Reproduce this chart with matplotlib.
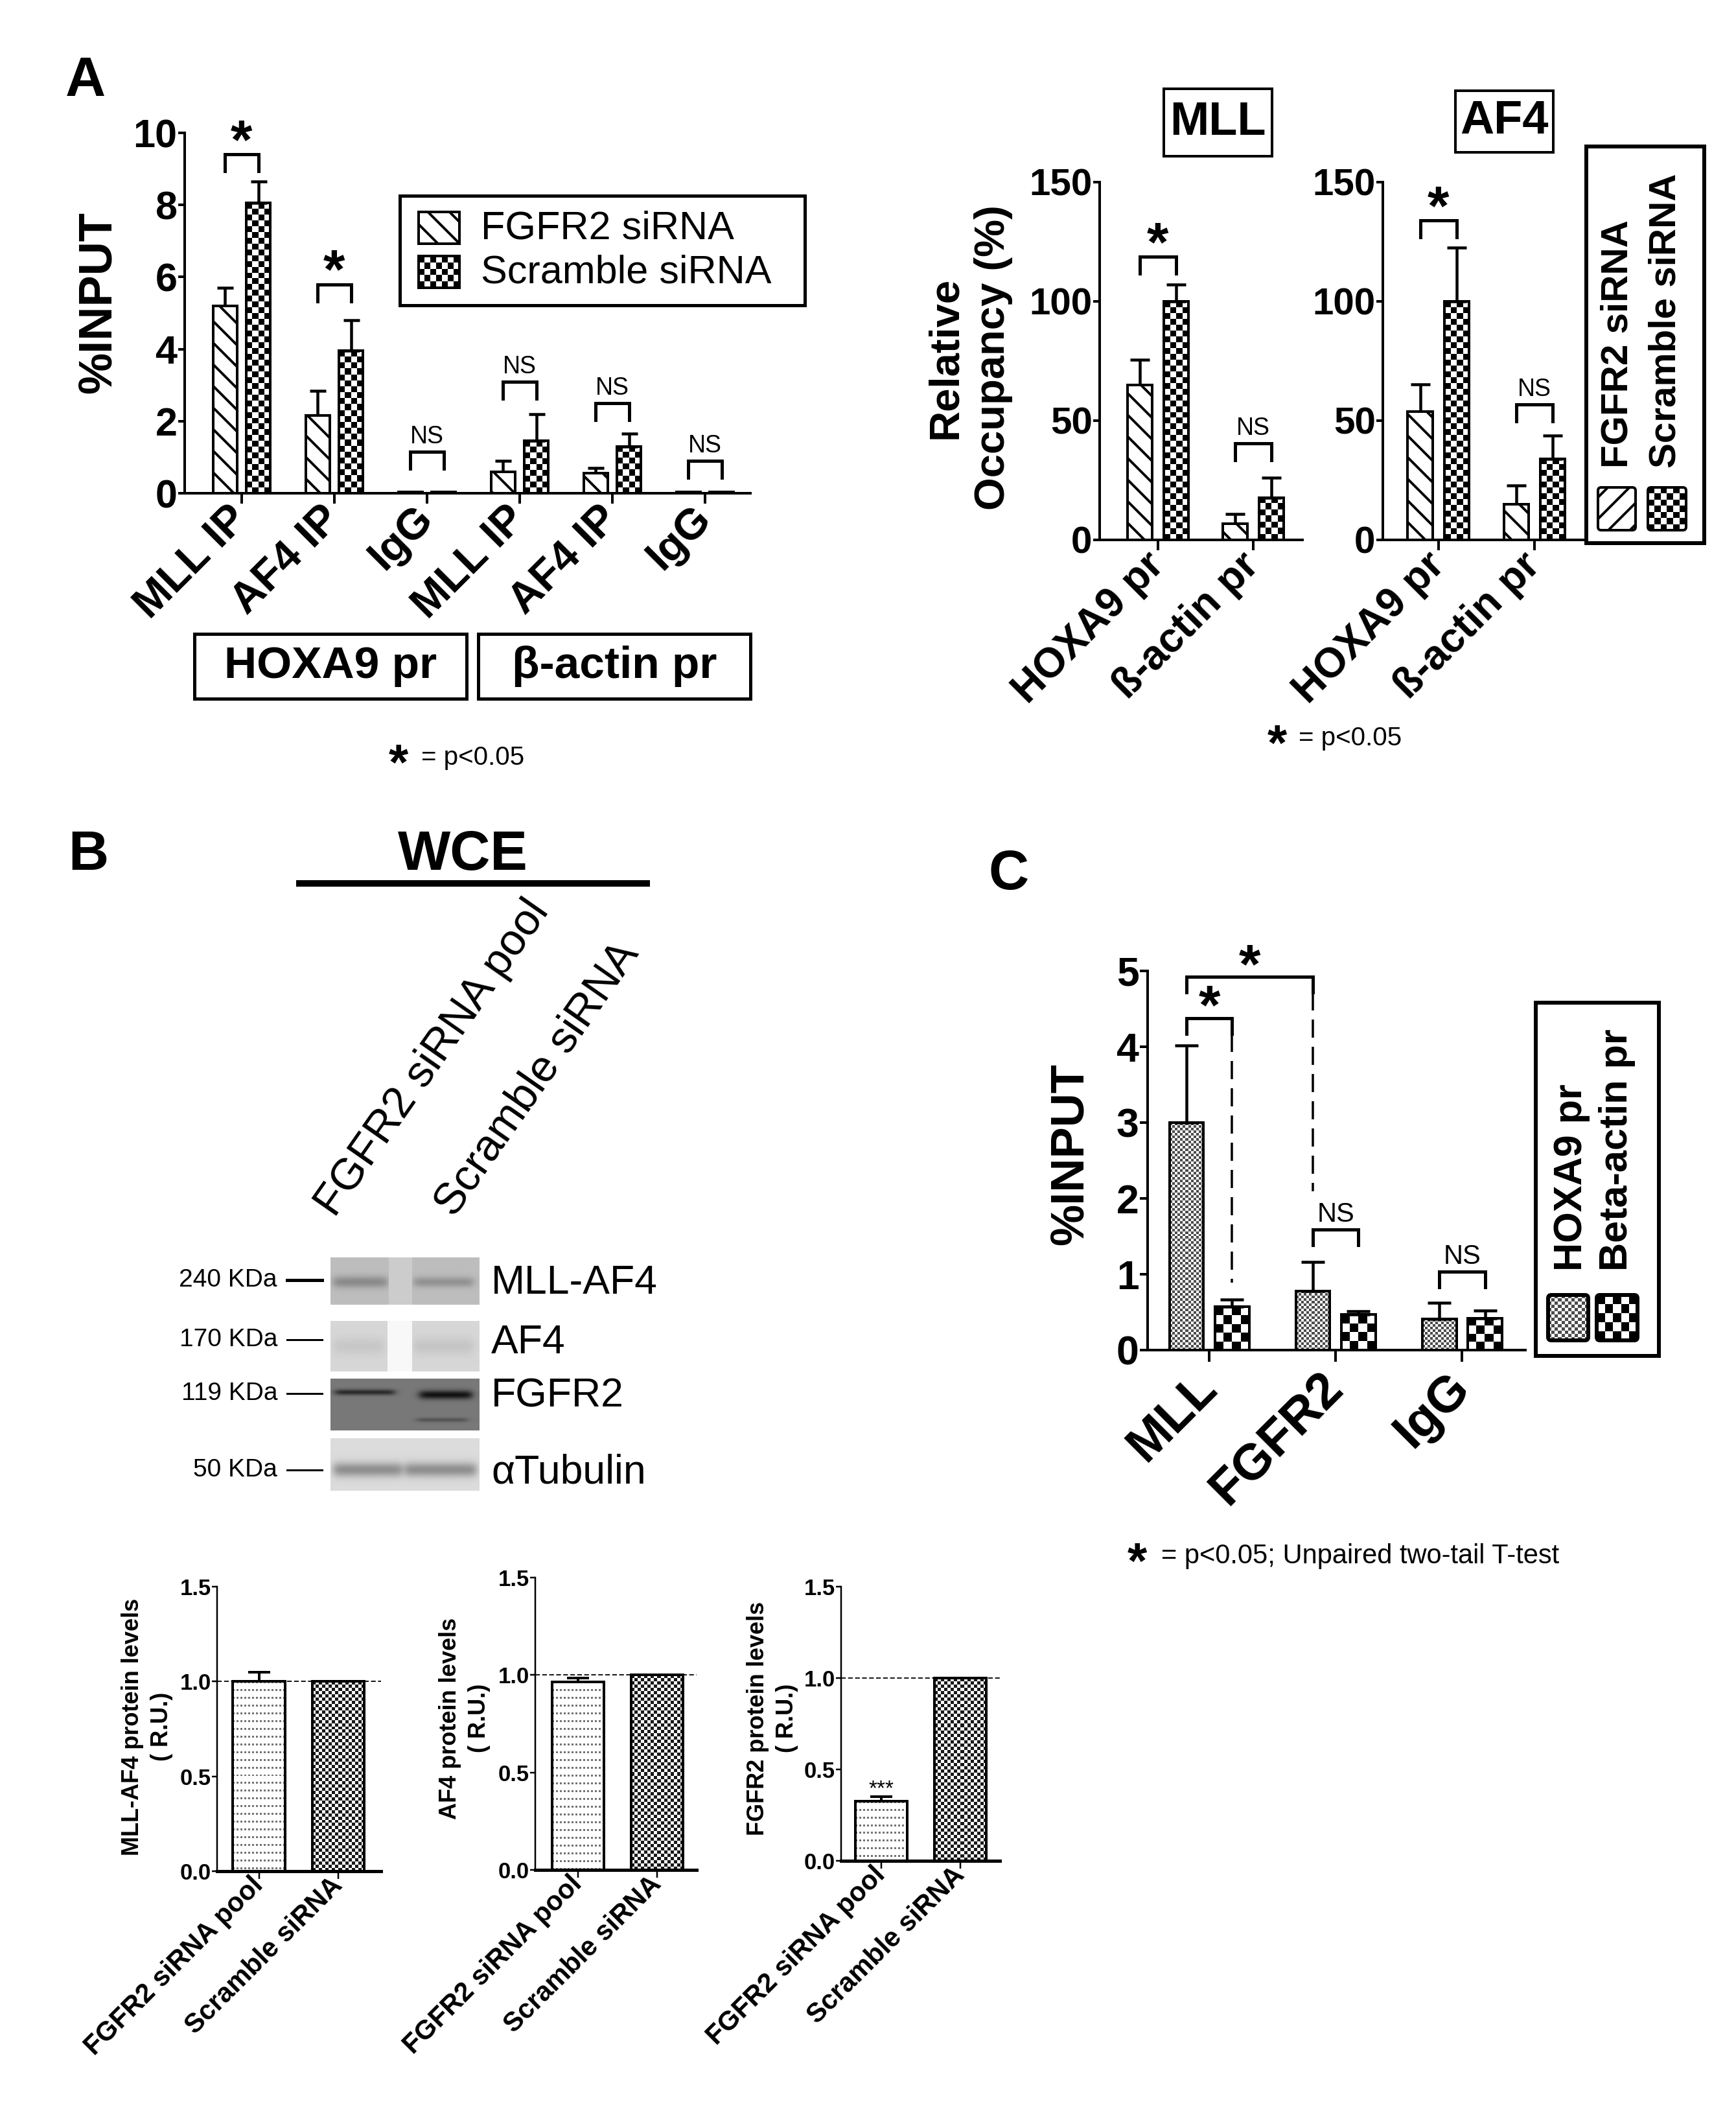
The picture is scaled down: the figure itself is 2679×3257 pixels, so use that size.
import numpy as np
import matplotlib
matplotlib.use('Agg')
import matplotlib.pyplot as plt
from matplotlib.patches import Rectangle, FancyBboxPatch

plt.rcParams['font.family'] = ['Liberation Sans', 'DejaVu Sans']
plt.rcParams['hatch.linewidth'] = 2.8
plt.rcParams['hatch.color'] = 'black'

# ---------------- data ----------------
# A left: ChIP, % input
a_labels = ['MLL IP', 'AF4 IP', 'IgG', 'MLL IP', 'AF4 IP', 'IgG']
a_fgfr2 = [5.2, 2.15, 0.03, 0.6, 0.55, 0.03]
a_fgfr2_err = [0.5, 0.7, 0.0, 0.3, 0.15, 0.0]
a_scr = [8.05, 3.95, 0.03, 1.45, 1.3, 0.04]
a_scr_err = [0.6, 0.85, 0.0, 0.75, 0.35, 0.0]
a_sig = ['*', '*', 'NS', 'NS', 'NS', 'NS']
a_sig_y = [9.4, 5.8, 1.15, 3.1, 2.5, 0.9]

# A right: relative occupancy (%)
occ_labels = ['HOXA9 pr', 'ß-actin pr']
mll_fgfr2 = [65, 6.8]
mll_fgfr2_err = [10.5, 4.2]
mll_scr = [100, 17.7]
mll_scr_err = [7, 8.3]
mll_sig = ['*', 'NS']
mll_sig_y = [118.7, 40.4]
af4_fgfr2 = [53.8, 15]
af4_fgfr2_err = [11.3, 7.7]
af4_scr = [100, 34]
af4_scr_err = [22.6, 9.7]
af4_sig = ['*', 'NS']
af4_sig_y = [134, 56.9]

# B: western blot + quantification
wb_labels = ['FGFR2 siRNA pool', 'Scramble siRNA']
wb_mllaf4 = [1.0, 1.0]
wb_mllaf4_err = [0.05, 0.0]
wb_af4 = [0.965, 1.0]
wb_af4_err = [0.02, 0.0]
wb_fgfr2 = [0.325, 1.0]
wb_fgfr2_err = [0.025, 0.0]
mw_labels = ['240 KDa', '170 KDa', '119 KDa', '50 KDa']
blot_names = ['MLL-AF4', 'AF4', 'FGFR2', 'αTubulin']

# C: ChIP, % input
c_labels = ['MLL', 'FGFR2', 'IgG']
c_hoxa9 = [3.0, 0.78, 0.41]
c_hoxa9_err = [1.02, 0.38, 0.21]
c_beta = [0.57, 0.47, 0.42]
c_beta_err = [0.1, 0.04, 0.1]

# ---------------- helpers ----------------
W, H = 2679, 3257
fig = plt.figure(figsize=(W / 100, H / 100), dpi=100)

# overlay axes in pixel coordinates (y down) for boxes, legends, blots
ov = fig.add_axes([0, 0, 1, 1])
ov.set_xlim(0, W)
ov.set_ylim(H, 0)
ov.axis('off')
ov.set_autoscale_on(False)

STAR_LIFT = 0.22  # where the asterisk glyph sits above the baseline, in em


def px(v):
    return v * 0.72


def add_ax(x0, ytop, x1, ybot):
    ax = fig.add_axes([x0 / W, 1 - ybot / H, (x1 - x0) / W, (ybot - ytop) / H])
    ax.patch.set_visible(False)
    return ax


def dy(ax, pixels):
    y0, y1 = ax.get_ylim()
    return pixels * (y1 - y0) / (ax.get_position().height * H)


def style(ax, lw, ylen, xlen, ysize):
    for s in ['top', 'right']:
        ax.spines[s].set_visible(False)
    for s in ['left', 'bottom']:
        ax.spines[s].set_linewidth(px(lw))
    ax.tick_params(axis='y', width=px(lw), length=px(ylen), labelsize=ysize, pad=1)
    ax.tick_params(axis='x', width=px(lw), length=px(xlen))
    ax.set_autoscale_on(False)


def checker(ax, x0, x1, y0, y1, cell, dark=0.0, light=1.0, zorder=1):
    p0 = ax.transData.transform((x0, y0))
    p1 = ax.transData.transform((x1, y1))
    nx = max(1, int(round(abs(p1[0] - p0[0]) / cell)))
    ny = max(1, int(round(abs(p1[1] - p0[1]) / cell)))
    arr = np.where(np.add.outer(np.arange(ny), np.arange(nx)) % 2 == 0, dark, light)
    ax.imshow(arr, extent=[x0, x1, y0, y1], cmap='gray', vmin=0, vmax=1,
              interpolation='nearest', aspect='auto', zorder=zorder)


def dotted(ax, x0, x1, y0, y1, cell=3, every=4, shade=0.45, zorder=1):
    p0 = ax.transData.transform((x0, y0))
    p1 = ax.transData.transform((x1, y1))
    nx = max(1, int(round(abs(p1[0] - p0[0]) / cell)))
    ny = max(1, int(round(abs(p1[1] - p0[1]) / cell)))
    arr = np.ones((ny, nx))
    arr[::every, ::2] = shade
    ax.imshow(arr, extent=[x0, x1, y0, y1], cmap='gray', vmin=0, vmax=1,
              interpolation='nearest', aspect='auto', zorder=zorder)


def bracket(ax, xa, xb, y, leg_px, lw_px, right_to=None):
    leg = dy(ax, leg_px)
    ax.plot([xa, xa, xb, xb], [y - leg, y, y, y - leg], color='k', lw=px(lw_px),
            solid_joinstyle='miter', clip_on=False, zorder=5)
    if right_to is not None:
        ax.plot([xb, xb], [y - leg, right_to], color='k', lw=px(lw_px * 0.7),
                ls=(0, (8, 4)), clip_on=False, zorder=5)


def sig(ax, x, y, s, fs, gap_px, weight=None):
    em = fs / 0.72
    if '*' in s:
        base = gap_px - STAR_LIFT * em
        w = weight or 'bold'
    else:
        base = gap_px
        w = weight or 'normal'
    ax.text(x, y + dy(ax, base), s, ha='center', va='baseline', fontsize=fs, fontweight=w)


def errbars(ax, xs, vals, errs, cap_pt, lw_px):
    ax.errorbar(xs, vals, yerr=[np.zeros(len(errs)), errs], fmt='none', ecolor='k',
                elinewidth=px(lw_px), capsize=cap_pt, capthick=px(lw_px), zorder=2, clip_on=False)


def box(x0, y0, x1, y1, lw_px, text=None, fs=50):
    ov.add_patch(Rectangle((x0, y0), x1 - x0, y1 - y0, fill=False, lw=px(lw_px), ec='k'))
    if text:
        ov.text((x0 + x1) / 2, (y0 + y1) / 2, text, ha='center', va='center',
                fontsize=fs, fontweight='bold')


def footnote(x_star, x_text, y_base, text, fs, star_fs):
    ov.text(x_star, y_base + 0.3 * star_fs / 0.72, '*', fontsize=star_fs, fontweight='bold',
            ha='left', va='baseline')
    ov.text(x_text, y_base, text, fontsize=fs, ha='left', va='baseline')


def rpatch(x0, y0, x1, y1, kind, lw_px=4):
    if kind == 'hatch_fs':
        ov.add_patch(FancyBboxPatch((x0, y0), x1 - x0, y1 - y0, boxstyle='round,pad=0,rounding_size=5',
                                    fc='white', ec='k', hatch='/', lw=px(lw_px)))
        return
    cell, dark = kind
    checker(ov, x0, x1, y1, y0, cell, dark=dark, zorder=2)
    ov.add_patch(FancyBboxPatch((x0, y0), x1 - x0, y1 - y0, boxstyle='round,pad=0,rounding_size=5',
                                fill=False, ec='k', lw=px(lw_px), zorder=3))


# ---------------- panel letters ----------------
ov.text(132, 126, 'A', fontsize=62, fontweight='bold', ha='center', va='center')
ov.text(136, 1320, 'B', fontsize=62, fontweight='bold', ha='center', va='center')
ov.text(1557, 1350, 'C', fontsize=62, fontweight='bold', ha='center', va='center')

# ---------------- A left ----------------
axA = add_ax(285, 205, 1158, 761)
axA.set_xlim(-0.615, 5.49)
axA.set_ylim(0, 10)
style(axA, 4, 10, 16, 44)
xs = np.arange(len(a_labels))
off, bw = 0.18, 0.26
axA.bar(xs - off, a_fgfr2, bw, facecolor='white', edgecolor='k', hatch='\\', lw=px(4), zorder=3)
for x, v in zip(xs + off, a_scr):
    checker(axA, x - bw / 2, x + bw / 2, 0, v, 9)
axA.bar(xs + off, a_scr, bw, facecolor='none', edgecolor='k', lw=px(4), zorder=3)
errbars(axA, xs - off, a_fgfr2, a_fgfr2_err, 9, 4.5)
errbars(axA, xs + off, a_scr, a_scr_err, 9, 4.5)
for i, (s, y) in enumerate(zip(a_sig, a_sig_y)):
    bracket(axA, xs[i] - off, xs[i] + off, y, 26, 5)
    sig(axA, xs[i], y, s, 62 if s == '*' else 27, 13)
axA.set_yticks([0, 2, 4, 6, 8, 10])
axA.set_yticklabels(['0', '2', '4', '6', '8', '10'], fontweight='bold', fontsize=44)
axA.set_xticks(xs)
axA.set_xticklabels(a_labels, rotation=45, ha='right', va='center', rotation_mode='anchor',
                    fontsize=48, fontweight='bold')
axA.tick_params(axis='x', pad=px(14))
ov.text(152, 467, '%INPUT', rotation=90, ha='center', va='center', fontsize=52, fontweight='bold')

box(617, 302, 1242, 471, 5)
ov.add_patch(Rectangle((646, 327), 63, 49, fc='white', ec='k', hatch='\\', lw=px(4)))
checker(ov, 646, 709, 444, 395, 9, zorder=2)
ov.add_patch(Rectangle((646, 395), 63, 49, fill=False, ec='k', lw=px(4), zorder=3))
ov.text(742, 353, 'FGFR2 siRNA', fontsize=44, va='center')
ov.text(742, 421, 'Scramble siRNA', fontsize=44, va='center')

box(300, 978, 720, 1078, 5, 'HOXA9 pr', 50)
box(738, 978, 1158, 1078, 5, 'β-actin pr', 50)
footnote(600, 650, 1180, '= p<0.05', 29, 56)

# ---------------- A right ----------------
occ_sets = [
    (add_ax(1697, 281, 2010, 833), (-0.612, 1.517), mll_fgfr2, mll_fgfr2_err, mll_scr, mll_scr_err, mll_sig, mll_sig_y),
    (add_ax(2134, 281, 2443, 833), (-0.58, 1.507), af4_fgfr2, af4_fgfr2_err, af4_scr, af4_scr_err, af4_sig, af4_sig_y),
]
xr = np.arange(len(occ_labels))
off, bw = 0.19, 0.26
for ax, xl, f, fe, sc, se, sg, sgy in occ_sets:
    ax.set_xlim(*xl)
    ax.set_ylim(0, 150)
    style(ax, 4, 10, 16, 42)
    ax.bar(xr - off, f, bw, facecolor='white', edgecolor='k', hatch='\\', lw=px(4), zorder=3)
    for x, v in zip(xr + off, sc):
        checker(ax, x - bw / 2, x + bw / 2, 0, v, 9)
    ax.bar(xr + off, sc, bw, facecolor='none', edgecolor='k', lw=px(4), zorder=3)
    errbars(ax, xr - off, f, fe, 11, 4.5)
    errbars(ax, xr + off, sc, se, 11, 4.5)
    for i, (s, y) in enumerate(zip(sg, sgy)):
        bracket(ax, xr[i] - off, xr[i] + off, y, 26, 5)
        sig(ax, xr[i], y, s, 62 if s == '*' else 27, 13)
    ax.set_yticks([0, 50, 100, 150])
    ax.set_yticklabels(['0', '50', '100', '150'], fontweight='bold', fontsize=42)
    ax.set_xticks(xr)
    ax.set_xticklabels(occ_labels, rotation=45, ha='right', va='center', rotation_mode='anchor',
                       fontsize=46, fontweight='bold')
    ax.tick_params(axis='x', pad=px(14))

box(1796, 137, 1963, 241, 4, 'MLL', 52)
box(2246, 140, 2397, 235, 4, 'AF4', 52)
ov.text(1496, 552, 'Relative\nOccupancy (%)', rotation=90, ha='center', va='center',
        multialignment='center', fontsize=47, fontweight='bold', linespacing=1.3)
box(2448, 226, 2630, 838, 6)
ov.text(2497, 722, 'FGFR2 siRNA', rotation=90, ha='center', va='bottom', fontsize=42, fontweight='bold')
ov.text(2570, 722, 'Scramble siRNA', rotation=90, ha='center', va='bottom', fontsize=42, fontweight='bold')
rpatch(2466, 752, 2524, 818, 'hatch_fs')
rpatch(2543, 752, 2602, 818, (10, 0.0))
footnote(1956, 2004, 1150, '= p<0.05', 29, 56)

# ---------------- B: blot ----------------
ov.text(714, 1320, 'WCE', fontsize=62, fontweight='bold', ha='center', va='center')
ov.plot([457, 1003], [1363, 1363], color='k', lw=px(10), solid_capstyle='butt')
ov.text(528, 1888, wb_labels[0], rotation=55, rotation_mode='anchor', ha='left', va='bottom', fontsize=49)
ov.text(712, 1888, wb_labels[1], rotation=55, rotation_mode='anchor', ha='left', va='bottom', fontsize=49)

blot_bands = [
    (0.74, [(0.02, 0.38, 0.52, 0.09, 0.2), (0.56, 0.96, 0.52, 0.08, 0.17)], (0.39, 0.55, 0.8)),
    (0.84, [(0.02, 0.36, 0.5, 0.12, 0.06), (0.56, 0.96, 0.5, 0.12, 0.07)], (0.38, 0.55, 0.97)),
    (0.47, [(0.03, 0.43, 0.26, 0.04, 0.3), (0.6, 0.95, 0.31, 0.06, 0.4), (0.58, 0.92, 0.8, 0.03, 0.14)], None),
    (0.86, [(0.02, 0.48, 0.6, 0.1, 0.3), (0.5, 0.98, 0.6, 0.1, 0.3)], None),
]
strip_y = [(1940, 2013), (2038, 2116), (2127, 2207), (2219, 2300)]
mw_y = [1975, 2067, 2150, 2268]


def strip(ny, nx, bg, bands, gap=None):
    yy = np.linspace(0, 1, ny)[:, None]
    xx = np.linspace(0, 1, nx)[None, :]
    img = np.full((ny, nx), bg, dtype=float)
    for x0, x1, yc, sg, depth in bands:
        lane = 1 / (1 + np.exp(-(xx - x0) / 0.015)) / (1 + np.exp((xx - x1) / 0.015))
        img = img - depth * lane * np.exp(-0.5 * ((yy - yc) / sg) ** 2)
    if gap is not None:
        g0, g1, gv = gap
        img = np.where((xx > g0) & (xx < g1), gv, img)
    return np.clip(img, 0, 1)


for (bg, bands, gap), (y0, y1), my, name, mw, k in zip(blot_bands, strip_y, mw_y, blot_names, mw_labels, range(4)):
    img = strip(y1 - y0, 230, bg, bands, gap)
    ov.imshow(img, extent=[510, 740, y1, y0], cmap='gray', vmin=0, vmax=1,
              interpolation='bilinear', aspect='auto', zorder=1)
    ov.text(758, my + 4, name, fontsize=45, va='center', ha='left')
    ov.text(428, my, mw, fontsize=28, va='center', ha='right')
    ov.plot([443, 497], [my, my], color='k', lw=px(5 if k == 0 else 3))

# ---------------- B: quantification ----------------
wb_sets = [
    (add_ax(335, 2448, 588, 2887), (-0.53, 1.54), wb_mllaf4, wb_mllaf4_err,
     'MLL-AF4 protein levels\n( R.U.)', (227, 2664)),
    (add_ax(826, 2434, 1075, 2885), (-0.54, 1.5), wb_af4, wb_af4_err,
     'AF4 protein levels\n( R.U.)', (717, 2651)),
    (add_ax(1298, 2448, 1543, 2871), (-0.51, 1.5), wb_fgfr2, wb_fgfr2_err,
     'FGFR2 protein levels\n( R.U.)', (1192, 2651)),
]
xb = np.arange(len(wb_labels))
bw = 0.66
for ax, xl, vals, errs, ylab, (lx, ly) in wb_sets:
    ax.set_xlim(*xl)
    ax.set_ylim(0, 1.5)
    style(ax, 2.5, 8, 12, 25)
    ax.spines['bottom'].set_linewidth(px(5))
    ax.axhline(1.0, color='k', lw=px(1.8), ls=(0, (4, 2)), zorder=0)
    dotted(ax, xb[0] - bw / 2, xb[0] + bw / 2, 0, vals[0])
    checker(ax, xb[1] - bw / 2, xb[1] + bw / 2, 0, vals[1], 5, dark=0.1)
    ax.bar(xb, vals, bw, facecolor='none', edgecolor='k', lw=px(4), zorder=3)
    errbars(ax, xb, vals, errs, 12, 4)
    ax.set_yticks([0, 0.5, 1.0, 1.5])
    ax.set_yticklabels(['0.0', '0.5', '1.0', '1.5'], fontweight='bold', fontsize=25)
    ax.set_xticks(xb)
    ax.set_xticklabels(wb_labels, rotation=45, ha='right', va='center', rotation_mode='anchor',
                       fontsize=30, fontweight='bold')
    ax.tick_params(axis='x', pad=px(4))
    ov.text(lx, ly, ylab, rotation=90, ha='center', va='center', multialignment='center',
            fontsize=26, fontweight='bold', linespacing=1.4)

ax3 = wb_sets[2][0]
sig(ax3, xb[0], wb_fgfr2[0] + wb_fgfr2_err[0], '***', 24, 10, weight='normal')

# ---------------- C ----------------
axC = add_ax(1771, 1498, 2354, 2083)
axC.set_xlim(-0.487, 2.5)
axC.set_ylim(0, 5)
style(axC, 4, 12, 18, 45)
xc = np.arange(len(c_labels))
off, bw = 0.18, 0.27
for x, v in zip(xc - off, c_hoxa9):
    checker(axC, x - bw / 2, x + bw / 2, 0, v, 4, dark=0.3)
for x, v in zip(xc + off, c_beta):
    checker(axC, x - bw / 2, x + bw / 2, 0, v, 13)
axC.bar(xc - off, c_hoxa9, bw, facecolor='none', edgecolor='k', lw=px(4), zorder=3)
axC.bar(xc + off, c_beta, bw, facecolor='none', edgecolor='k', lw=px(4), zorder=3)
errbars(axC, xc - off, c_hoxa9, c_hoxa9_err, 13, 4.5)
errbars(axC, xc + off, c_beta, c_beta_err, 13, 4.5)
# MLL HOXA9 vs MLL beta-actin
bracket(axC, xc[0] - off, xc[0] + off, 4.38, 24, 5, right_to=0.89)
sig(axC, xc[0], 4.38, '*', 62, 10)
# MLL HOXA9 vs FGFR2 HOXA9
bracket(axC, xc[0] - off, xc[1] - off, 4.92, 24, 5, right_to=2.09)
sig(axC, (xc[0] + xc[1]) / 2 - off, 4.92, '*', 62, 10)
bracket(axC, xc[1] - off, xc[1] + off, 1.59, 24, 5)
sig(axC, xc[1], 1.59, 'NS', 30, 12)
bracket(axC, xc[2] - off, xc[2] + off, 1.03, 24, 5)
sig(axC, xc[2], 1.03, 'NS', 30, 12)
axC.set_yticks([0, 1, 2, 3, 4, 5])
axC.set_yticklabels(['0', '1', '2', '3', '4', '5'], fontweight='bold', fontsize=45)
axC.set_xticks(xc)
axC.set_xticklabels(c_labels, rotation=45, ha='right', va='center', rotation_mode='anchor',
                    fontsize=56, fontweight='bold')
axC.tick_params(axis='x', pad=px(28))
ov.text(1652, 1781, '%INPUT', rotation=90, ha='center', va='center', fontsize=52, fontweight='bold')

box(2370, 1547, 2560, 2092, 6)
ov.text(2426, 1961, 'HOXA9 pr', rotation=90, ha='center', va='bottom', fontsize=44, fontweight='bold')
ov.text(2495, 1961, 'Beta-actin pr', rotation=90, ha='center', va='bottom', fontsize=44, fontweight='bold')
rpatch(2389, 1998, 2451, 2068, (5, 0.3), lw_px=6)
rpatch(2464, 1998, 2527, 2068, (13, 0.0), lw_px=6)
footnote(1740, 1792, 2412, '= p<0.05; Unpaired two-tail T-test', 30, 56)

fig.savefig('out.png', dpi=100)
